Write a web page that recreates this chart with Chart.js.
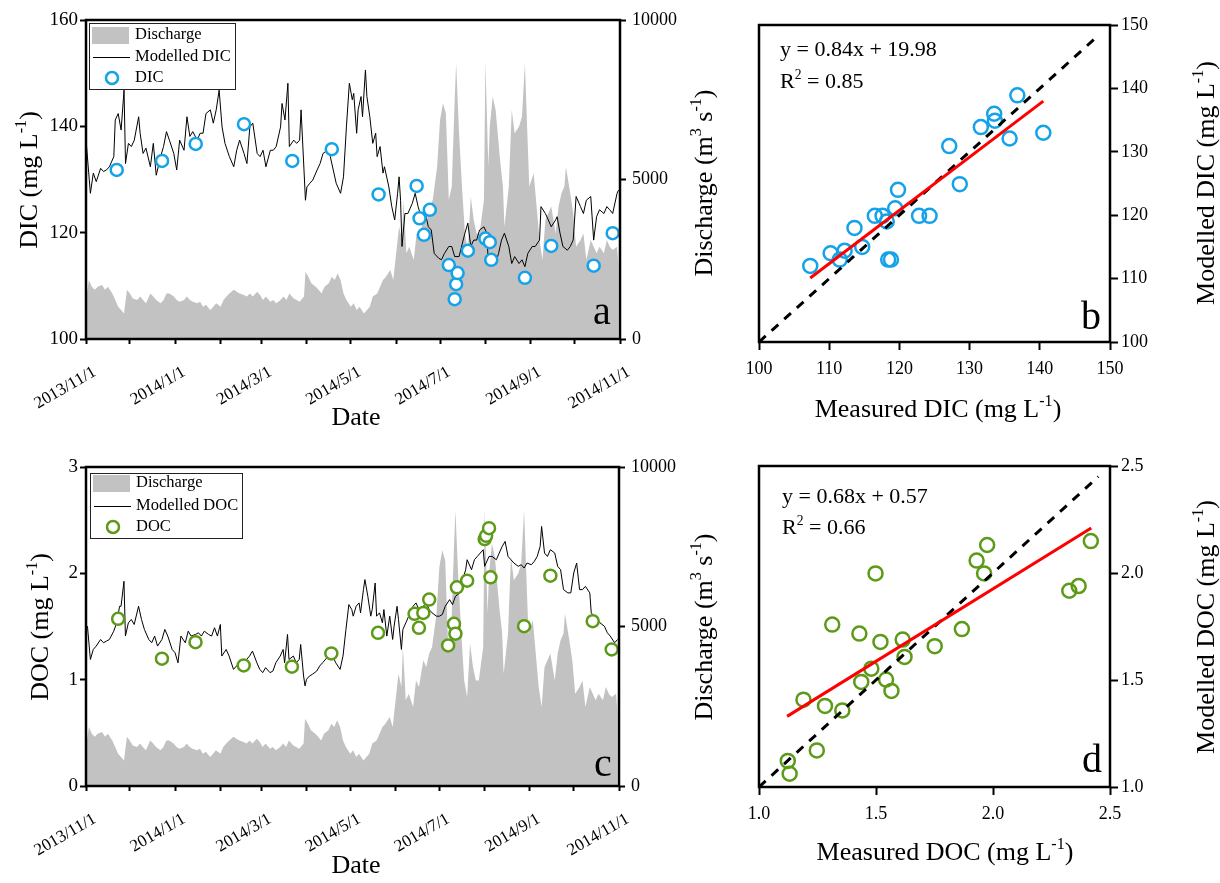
<!DOCTYPE html>
<html>
<head>
<meta charset="utf-8">
<script src="https://cdn.jsdelivr.net/npm/chart.js@4.4.1/dist/chart.umd.min.js"></script>
<style>
  body { margin: 0; background: #fff; width: 1220px; height: 883px; position: relative; overflow: hidden; }
  canvas { position: absolute; }
</style>
</head>
<body>
<canvas id="chart-a" width="720" height="440" style="left:0;top:0"></canvas>
<canvas id="chart-b" width="500" height="440" style="left:720px;top:0"></canvas>
<canvas id="chart-c" width="720" height="443" style="left:0;top:440px"></canvas>
<canvas id="chart-d" width="500" height="443" style="left:720px;top:440px"></canvas>
<script>
// days since 2013/11/1
const monthDays = [0, 30, 61, 92, 120, 151, 181, 212, 242, 273, 304, 334, 365];
const dateLabels = ["2013/11/1", "", "2014/1/1", "", "2014/3/1", "", "2014/5/1", "", "2014/7/1", "", "2014/9/1", "", "2014/11/1"];

// discharge (m3/s)
const qDays = [0, 2, 4, 6, 8, 11, 13, 15, 18, 20, 22, 24, 26, 28, 30, 32, 35, 37, 39, 41, 44, 46, 48, 51, 53, 55, 57, 60, 62, 64, 67, 69, 71, 73, 76, 78, 80, 82, 85, 87, 89, 92, 94, 96, 98, 101, 103, 105, 108, 110, 112, 114, 117, 119, 121, 123, 126, 128, 130, 133, 135, 137, 139, 142, 144, 146, 149, 150, 152, 154, 157, 159, 161, 163, 166, 168, 170, 172, 174, 176, 178, 181, 183, 185, 187, 190, 192, 194, 196, 199, 201, 203, 205, 208, 210, 212, 214, 216, 217, 219, 221, 224, 226, 228, 231, 233, 235, 237, 240, 242, 244, 246, 248, 250, 252, 253, 255, 257, 259, 261, 263, 265, 267, 269, 272, 273, 275, 276, 278, 280, 283, 285, 286, 289, 291, 293, 296, 298, 300, 302, 303, 306, 308, 310, 312, 314, 316, 318, 321, 323, 325, 327, 328, 331, 333, 335, 338, 340, 342, 345, 347, 349, 351, 354, 356, 358, 360, 363, 364];
const qVals = [1220, 1850, 1640, 1540, 1640, 1690, 1540, 1640, 1430, 1220, 1010, 910, 800, 1540, 1430, 1270, 1220, 1330, 1220, 1120, 1430, 1330, 1220, 1120, 1220, 1430, 1430, 1330, 1220, 1170, 1220, 1330, 1220, 1170, 1120, 1170, 1010, 1070, 910, 1010, 1120, 1010, 1220, 1330, 1430, 1540, 1480, 1430, 1380, 1330, 1430, 1330, 1480, 1380, 1220, 1330, 1170, 1220, 1120, 1220, 1330, 1220, 1430, 1270, 1220, 1170, 1330, 2110, 1950, 1750, 1640, 1540, 1430, 1640, 1750, 1950, 1850, 2060, 1850, 1430, 1220, 1010, 1120, 910, 1010, 800, 910, 1010, 1330, 1430, 1640, 1850, 1950, 2160, 1850, 2690, 3520, 3100, 4360, 2690, 2890, 2480, 3310, 3100, 3940, 3730, 4150, 4360, 5400, 6870, 7390, 7070, 4360, 4780, 7490, 8640, 6450, 4780, 3310, 2790, 4460, 3730, 3310, 3310, 4360, 8690, 5400, 6660, 7600, 7180, 5610, 4780, 3520, 4780, 7180, 6450, 6660, 6970, 8640, 6030, 4780, 5190, 4150, 3100, 2480, 3730, 3940, 4150, 3310, 4150, 4570, 4780, 5400, 4570, 3940, 2890, 3100, 3310, 2480, 3100, 2890, 2690, 2890, 2690, 3100, 2890, 2790, 2890, 2270];

// modelled DIC (mg/L)
const dicModelDays = [0, 3, 5, 7, 10, 12, 14, 16, 19, 20, 22, 24, 26, 27, 29, 31, 33, 36, 37, 39, 41, 44, 46, 48, 51, 53, 55, 57, 60, 62, 64, 67, 69, 71, 73, 76, 78, 80, 82, 85, 87, 89, 91, 93, 95, 98, 101, 103, 105, 108, 110, 112, 114, 117, 119, 121, 123, 126, 128, 130, 133, 134, 136, 138, 139, 142, 144, 146, 147, 149, 150, 151, 153, 155, 158, 160, 162, 165, 167, 169, 171, 174, 176, 178, 180, 182, 183, 185, 186, 188, 189, 191, 192, 194, 196, 198, 199, 201, 203, 204, 207, 209, 211, 213, 214, 215, 216, 218, 220, 223, 225, 227, 229, 232, 234, 236, 238, 241, 243, 245, 248, 250, 252, 255, 257, 259, 261, 263, 265, 267, 269, 272, 274, 275, 277, 280, 282, 284, 286, 289, 291, 293, 296, 298, 300, 302, 305, 307, 310, 311, 314, 316, 318, 321, 322, 324, 326, 329, 331, 333, 335, 338, 340, 342, 345, 347, 349, 351, 354, 356, 358, 360, 363, 364];
const dicModelVals = [137.5, 127.4, 131.2, 129.6, 132.1, 131.5, 131.8, 132.4, 134.3, 141.2, 142.4, 139.3, 146.8, 133, 136.8, 136.2, 137.4, 141.8, 138.7, 134.9, 135.9, 132.4, 136.8, 130.8, 134.3, 136.2, 139, 137.4, 134.9, 131.8, 137.4, 135.5, 141.8, 138.1, 139, 137.4, 138.7, 138.7, 142.4, 143.1, 140.6, 143.1, 146.8, 139.9, 136.8, 134.3, 132.4, 135.5, 137.4, 134.9, 133, 139.9, 140.6, 134.9, 134.3, 135.5, 132.4, 135.5, 135.5, 136.2, 139.9, 144.3, 141.2, 148.1, 136.2, 137.4, 136.8, 137.4, 143.1, 131.8, 126.1, 128.6, 129.3, 129.9, 131.8, 133, 134.9, 135.5, 134.3, 131.8, 129.3, 127.4, 130.5, 139.9, 148.1, 145, 146.2, 138.7, 143.1, 145.6, 141.8, 150.6, 145.6, 141.8, 136.8, 138.7, 134.3, 136.2, 131.2, 132.4, 128.6, 124.9, 122.4, 127.4, 130.5, 126.1, 117.4, 123.6, 123.6, 125.5, 127.4, 124.9, 123, 123.6, 121.1, 120.5, 116.1, 115.2, 114.9, 116.1, 117.4, 117.4, 115.5, 115.5, 117.7, 119.9, 121.8, 117.4, 118.6, 118.6, 120.5, 121.1, 119.9, 114.2, 114.9, 114.2, 116.1, 118.6, 119.9, 117.4, 114.2, 115.5, 114.2, 114.9, 113.6, 116.1, 117.4, 117.4, 118.6, 124.9, 123.6, 122.4, 121.1, 122.4, 123, 119.9, 117.4, 116.7, 117.4, 118.6, 126.8, 124.9, 123.6, 126.1, 126.8, 118.6, 123, 124.3, 123.6, 124.9, 124.3, 123.6, 127.4, 128];

// measured DIC samples
const dicDays = [21, 52, 75, 108, 141, 168, 200, 226, 228, 231, 235, 248, 252, 253, 254, 261, 273, 276, 277, 300, 318, 347, 360];
const dicMeasured = [131.8, 133.5, 136.7, 140.4, 133.5, 135.7, 127.2, 128.8, 122.7, 119.6, 124.3, 113.9, 107.5, 110.3, 112.4, 116.6, 118.9, 118.2, 114.9, 111.5, 117.5, 113.8, 119.9];

// modelled DOC (mg/L)
const docModelDays = [1, 3, 5, 7, 10, 12, 14, 16, 19, 21, 23, 24, 26, 27, 29, 31, 33, 36, 38, 40, 43, 45, 47, 49, 52, 54, 56, 59, 61, 63, 65, 68, 70, 72, 75, 77, 79, 81, 84, 86, 88, 90, 92, 93, 96, 98, 101, 103, 105, 108, 110, 112, 114, 117, 119, 121, 123, 126, 128, 130, 133, 135, 136, 138, 139, 142, 144, 146, 147, 149, 150, 151, 153, 155, 158, 160, 162, 165, 167, 169, 171, 174, 176, 178, 180, 182, 183, 185, 187, 188, 190, 191, 193, 195, 196, 198, 199, 201, 203, 204, 206, 208, 210, 211, 213, 214, 216, 217, 219, 221, 224, 226, 228, 231, 233, 235, 237, 240, 242, 244, 246, 249, 251, 253, 256, 258, 260, 261, 264, 266, 268, 270, 272, 273, 276, 278, 281, 283, 285, 287, 289, 291, 293, 296, 298, 300, 302, 305, 307, 309, 311, 312, 314, 316, 318, 321, 323, 325, 327, 330, 332, 334, 336, 338, 340, 342, 345, 346, 348, 350, 352, 355, 357, 359, 362, 364];
const docModelVals = [1.503, 1.19, 1.284, 1.316, 1.378, 1.347, 1.363, 1.378, 1.456, 1.534, 1.69, 1.69, 1.925, 1.41, 1.534, 1.566, 1.519, 1.69, 1.566, 1.472, 1.378, 1.347, 1.41, 1.316, 1.378, 1.472, 1.41, 1.284, 1.253, 1.159, 1.41, 1.347, 1.456, 1.41, 1.425, 1.441, 1.41, 1.456, 1.425, 1.41, 1.488, 1.41, 1.519, 1.222, 1.284, 1.222, 1.097, 1.128, 1.159, 1.128, 1.19, 1.222, 1.269, 1.159, 1.097, 1.066, 1.113, 1.066, 1.081, 1.159, 1.222, 1.284, 1.159, 1.425, 1.19, 1.222, 1.159, 1.19, 1.331, 1.034, 0.941, 1.003, 1.034, 1.05, 1.081, 1.128, 1.159, 1.206, 1.238, 1.222, 1.159, 1.097, 1.222, 1.472, 1.706, 1.659, 1.597, 1.69, 1.722, 1.628, 1.847, 1.941, 1.784, 1.597, 1.659, 1.909, 1.597, 1.628, 1.534, 1.659, 1.41, 1.597, 1.378, 1.503, 1.69, 1.566, 1.284, 1.472, 1.534, 1.597, 1.69, 1.722, 1.659, 1.69, 1.722, 1.659, 1.628, 1.597, 1.597, 1.613, 1.69, 1.753, 1.706, 1.784, 1.816, 1.941, 2.034, 2.128, 2.034, 2.128, 2.159, 2.191, 2.222, 2.066, 2.159, 2.159, 2.128, 2.191, 2.253, 2.3, 2.159, 2.128, 2.097, 2.066, 2.081, 2.05, 2.097, 2.081, 2.113, 2.159, 2.253, 2.441, 2.191, 2.159, 2.222, 2.191, 2.066, 2.034, 1.847, 1.816, 1.816, 2.003, 2.097, 1.847, 1.847, 1.878, 1.816, 1.628, 1.597, 1.566, 1.534, 1.503, 1.441, 1.41, 1.347, 1.378];

// measured DOC samples
const docDays = [22, 52, 75, 108, 141, 168, 200, 225, 228, 231, 235, 248, 252, 253, 254, 261, 273, 274, 276, 277, 300, 318, 347, 360];
const docMeasured = [1.572, 1.197, 1.353, 1.134, 1.122, 1.247, 1.441, 1.619, 1.488, 1.628, 1.753, 1.322, 1.525, 1.432, 1.868, 1.931, 2.322, 2.353, 2.425, 1.962, 1.503, 1.978, 1.55, 1.284];

// panel b: measured vs modelled DIC
const bMeasured = [107.3, 110.2, 111.5, 112.2, 113.6, 114.7, 116.5, 117.6, 118.2, 118.4, 118.8, 119.4, 119.8, 122.8, 124.3, 127.1, 128.6, 131.6, 133.5, 133.6, 135.7, 136.8, 140.5];
const bModelled = [112.0, 114.0, 113.0, 114.4, 118.0, 115.0, 119.9, 119.9, 119.0, 113.0, 113.0, 121.1, 124.0, 119.9, 119.9, 130.9, 124.9, 133.9, 136.0, 134.9, 132.1, 138.9, 133.0];
const bFitX = [107.3, 140.5];
const bFitY = [110.1, 138.0];
const bOneX = [100, 148.5];

// panel d: measured vs modelled DOC
const dMeasured = [1.123, 1.131, 1.247, 1.19, 1.282, 1.356, 1.313, 1.429, 1.437, 1.48, 1.498, 1.519, 1.543, 1.566, 1.614, 1.622, 1.751, 1.867, 1.93, 1.962, 1.975, 2.326, 2.366, 2.418];
const dModelled = [1.122, 1.062, 1.171, 1.408, 1.379, 1.358, 1.759, 1.717, 1.491, 1.553, 1.998, 1.678, 1.502, 1.449, 1.689, 1.608, 1.658, 1.738, 2.058, 1.998, 2.131, 1.917, 1.939, 2.149];
const dFitX = [1.12, 2.42];
const dFitY = [1.33, 2.21];
const dOneX = [1.0, 2.45];

const FONT = "'Liberation Serif', 'Times New Roman', serif";
const BLUE = "#14a2e8";
const GREEN = "#5c9a18";
const GRAY = "#c2c2c2";

const pts = (xs, ys) => xs.map((x, i) => ({ x: x, y: ys[i] }));

function richParts(s) {
  const out = [];
  const re = /\^\{([^}]*)\}/g;
  let last = 0, m;
  while ((m = re.exec(s))) {
    if (m.index > last) out.push({ t: s.slice(last, m.index) });
    out.push({ t: m[1], sup: true });
    last = re.lastIndex;
  }
  if (last < s.length) out.push({ t: s.slice(last) });
  return out;
}

function drawText(ctx, o) {
  const parts = richParts(o.t);
  const supSize = o.size * 0.62;
  ctx.save();
  ctx.translate(o.x, o.y);
  ctx.rotate(((o.rot || 0) * Math.PI) / 180);
  ctx.fillStyle = "#000";
  ctx.textBaseline = "middle";
  ctx.textAlign = "left";
  let w = 0;
  parts.forEach((p) => {
    ctx.font = (p.sup ? supSize : o.size) + "px " + FONT;
    p.w = ctx.measureText(p.t).width;
    w += p.w;
  });
  let cx = o.align === "left" ? 0 : -w / 2;
  parts.forEach((p) => {
    ctx.font = (p.sup ? supSize : o.size) + "px " + FONT;
    ctx.fillText(p.t, cx, p.sup ? -o.size * 0.32 : 0);
    cx += p.w;
  });
  ctx.restore();
}

// frame, legend box and free texts
function decoPlugin(cfg) {
  return {
    id: "deco",
    afterDatasetsDraw(chart) {
      const ctx = chart.ctx;
      const a = chart.chartArea;
      ctx.save();
      ctx.strokeStyle = "#000";
      ctx.lineWidth = 2.5;
      ctx.strokeRect(a.left, a.top, a.right - a.left, a.bottom - a.top);
      if (cfg.legend) {
        const lg = cfg.legend;
        ctx.fillStyle = "#fff";
        ctx.fillRect(lg.x0, lg.y0, lg.x1 - lg.x0, lg.y1 - lg.y0);
        ctx.lineWidth = 1;
        ctx.strokeStyle = "#222";
        ctx.strokeRect(lg.x0 + 0.5, lg.y0 + 0.5, lg.x1 - lg.x0, lg.y1 - lg.y0);
        lg.rows.forEach((r) => {
          if (r.kind === "box") {
            ctx.fillStyle = GRAY;
            ctx.fillRect(lg.x0 + 3, r.y - 8, 37, 17);
          } else if (r.kind === "line") {
            ctx.strokeStyle = "#000";
            ctx.lineWidth = 1;
            ctx.beginPath();
            ctx.moveTo(lg.x0 + 4, r.y + 0.5);
            ctx.lineTo(lg.x0 + 41, r.y + 0.5);
            ctx.stroke();
          } else {
            ctx.strokeStyle = r.color;
            ctx.lineWidth = 2.5;
            ctx.fillStyle = "#fff";
            ctx.beginPath();
            ctx.arc(lg.x0 + 23, r.y, 6, 0, Math.PI * 2);
            ctx.fill();
            ctx.stroke();
          }
          drawText(ctx, { t: r.label, x: lg.x0 + 46, y: r.y, size: 16.5, align: "left" });
        });
      }
      cfg.texts.forEach((t) => drawText(ctx, t));
      ctx.restore();
    },
  };
}

function tickGrid(len) {
  return { display: true, drawOnChartArea: false, drawTicks: true, tickLength: len, tickWidth: 2, tickColor: "#000" };
}

const plain = (v) => String(v);

function timeChart(id, opts) {
  return new Chart(document.getElementById(id), {
    type: "line",
    data: {
      datasets: [
        {
          label: opts.pointLabel,
          data: pts(opts.sampleDays, opts.sampleVals),
          showLine: false,
          pointRadius: 6,
          pointBorderWidth: 2.5,
          pointBorderColor: opts.color,
          pointBackgroundColor: "#fff",
          yAxisID: "y",
          order: 1,
        },
        {
          label: "Modelled",
          data: pts(opts.modelDays, opts.modelVals),
          borderColor: "#000",
          borderWidth: 1,
          pointRadius: 0,
          tension: 0,
          yAxisID: "y",
          order: 2,
        },
        {
          label: "Discharge",
          data: pts(qDays, qVals),
          borderWidth: 0,
          borderColor: GRAY,
          backgroundColor: GRAY,
          fill: "origin",
          pointRadius: 0,
          tension: 0,
          yAxisID: "q",
          order: 3,
        },
      ],
    },
    options: {
      responsive: false,
      animation: false,
      events: [],
      layout: { padding: { top: opts.top, left: 0, right: 0, bottom: 0 } },
      plugins: { legend: { display: false }, tooltip: { enabled: false } },
      scales: {
        x: {
          type: "linear",
          min: 0,
          max: 365,
          afterBuildTicks: (s) => {
            s.ticks = monthDays.map((v) => ({ value: v }));
          },
          ticks: {
            autoSkip: false,
            minRotation: 30,
            maxRotation: 30,
            padding: 18,
            labelOffset: 9,
            color: "#000",
            font: { family: FONT, size: 17 },
            callback: (v, i) => dateLabels[i],
          },
          grid: tickGrid(5),
          border: { display: false },
          afterFit: (s) => {
            s.height = opts.xHeight;
          },
        },
        y: {
          position: "left",
          min: opts.yMin,
          max: opts.yMax,
          ticks: { stepSize: opts.yStep, padding: 2, color: "#000", font: { family: FONT, size: 19 }, callback: plain },
          grid: tickGrid(6),
          border: { display: false },
          afterFit: (s) => {
            s.width = 86;
          },
        },
        q: {
          position: "right",
          min: 0,
          max: 10000,
          ticks: { stepSize: 5000, padding: 6, color: "#000", font: { family: FONT, size: 18 }, callback: plain },
          grid: tickGrid(6),
          border: { display: false },
          afterFit: (s) => {
            s.width = opts.qWidth;
          },
        },
      },
    },
    plugins: [decoPlugin(opts.deco)],
  });
}

function scatterChart(id, opts) {
  return new Chart(document.getElementById(id), {
    type: "line",
    data: {
      datasets: [
        {
          label: "1:1",
          data: pts(opts.oneX, opts.oneX),
          borderColor: "#000",
          borderWidth: 3,
          borderDash: [9, 8],
          pointRadius: 0,
          order: 2,
        },
        {
          label: "fit",
          data: pts(opts.fitX, opts.fitY),
          borderColor: "#ff0000",
          borderWidth: 3,
          pointRadius: 0,
          order: 1,
        },
        {
          label: "points",
          data: pts(opts.measured, opts.modelled),
          showLine: false,
          pointRadius: 7,
          pointBorderWidth: 2.5,
          pointBorderColor: opts.color,
          pointBackgroundColor: "rgba(255,255,255,0)",
          order: 3,
        },
      ],
    },
    options: {
      responsive: false,
      animation: false,
      events: [],
      layout: { padding: { top: opts.top, left: 39, right: 0, bottom: 0 } },
      plugins: { legend: { display: false }, tooltip: { enabled: false } },
      scales: {
        x: {
          type: "linear",
          min: opts.min,
          max: opts.max,
          ticks: { stepSize: opts.step, padding: 8, color: "#000", font: { family: FONT, size: 18 }, callback: opts.fmt },
          grid: tickGrid(8),
          border: { display: false },
          afterFit: (s) => {
            s.height = opts.xHeight;
          },
        },
        y: {
          position: "right",
          min: opts.min,
          max: opts.max,
          ticks: { stepSize: opts.step, padding: 3, color: "#000", font: { family: FONT, size: 18 }, callback: opts.fmt },
          grid: tickGrid(8),
          border: { display: false },
          afterFit: (s) => {
            s.width = 110;
          },
        },
      },
    },
    plugins: [decoPlugin(opts.deco)],
  });
}

timeChart("chart-a", {
  pointLabel: "DIC",
  sampleDays: dicDays,
  sampleVals: dicMeasured,
  modelDays: dicModelDays,
  modelVals: dicModelVals,
  color: BLUE,
  top: 20,
  xHeight: 101,
  qWidth: 100,
  yMin: 100,
  yMax: 160,
  yStep: 20,
  deco: {
    legend: {
      x0: 89, y0: 23, x1: 235, y1: 89,
      rows: [
        { kind: "box", label: "Discharge", y: 35 },
        { kind: "line", label: "Modelled DIC", y: 57 },
        { kind: "dot", label: "DIC", y: 78, color: BLUE },
      ],
    },
    texts: [
      { t: "DIC (mg L^{-1})", x: 30, y: 180, size: 26, rot: -90 },
      { t: "Date", x: 356, y: 418, size: 26 },
      { t: "Discharge (m^{3} s^{-1})", x: 705, y: 183, size: 26, rot: -90 },
      { t: "a", x: 602, y: 313, size: 40 },
    ],
  },
});

timeChart("chart-c", {
  pointLabel: "DOC",
  sampleDays: docDays,
  sampleVals: docMeasured,
  modelDays: docModelDays,
  modelVals: docModelVals,
  color: GREEN,
  top: 27,
  xHeight: 97,
  qWidth: 101,
  yMin: 0,
  yMax: 3,
  yStep: 1,
  deco: {
    legend: {
      x0: 90, y0: 33, x1: 242, y1: 98,
      rows: [
        { kind: "box", label: "Discharge", y: 43 },
        { kind: "line", label: "Modelled DOC", y: 66 },
        { kind: "dot", label: "DOC", y: 87, color: GREEN },
      ],
    },
    texts: [
      { t: "DOC (mg L^{-1})", x: 41, y: 187, size: 26, rot: -90 },
      { t: "Date", x: 356, y: 426, size: 26 },
      { t: "Discharge (m^{3} s^{-1})", x: 705, y: 187, size: 26, rot: -90 },
      { t: "c", x: 603, y: 325, size: 40 },
    ],
  },
});

scatterChart("chart-b", {
  measured: bMeasured,
  modelled: bModelled,
  fitX: bFitX,
  fitY: bFitY,
  oneX: bOneX,
  color: BLUE,
  min: 100,
  max: 150,
  step: 10,
  fmt: plain,
  top: 25,
  xHeight: 98,
  deco: {
    texts: [
      { t: "y = 0.84x + 19.98", x: 60, y: 50, size: 22, align: "left" },
      { t: "R^{2} = 0.85", x: 60, y: 82, size: 22, align: "left" },
      { t: "b", x: 371, y: 318, size: 40 },
      { t: "Modelled DIC (mg L^{-1})", x: 487, y: 183, size: 26, rot: -90 },
      { t: "Measured DIC (mg L^{-1})", x: 218, y: 410, size: 26 },
    ],
  },
});

scatterChart("chart-d", {
  measured: dMeasured,
  modelled: dModelled,
  fitX: dFitX,
  fitY: dFitY,
  oneX: dOneX,
  color: GREEN,
  min: 1.0,
  max: 2.5,
  step: 0.5,
  fmt: (v) => Number(v).toFixed(1),
  top: 26,
  xHeight: 96,
  deco: {
    texts: [
      { t: "y = 0.68x + 0.57", x: 62, y: 57, size: 22, align: "left" },
      { t: "R^{2} = 0.66", x: 62, y: 88, size: 22, align: "left" },
      { t: "d", x: 372, y: 321, size: 40 },
      { t: "Modelled DOC (mg L^{-1})", x: 487, y: 187, size: 26, rot: -90 },
      { t: "Measured DOC (mg L^{-1})", x: 225, y: 413, size: 26 },
    ],
  },
});
</script>
</body>
</html>
